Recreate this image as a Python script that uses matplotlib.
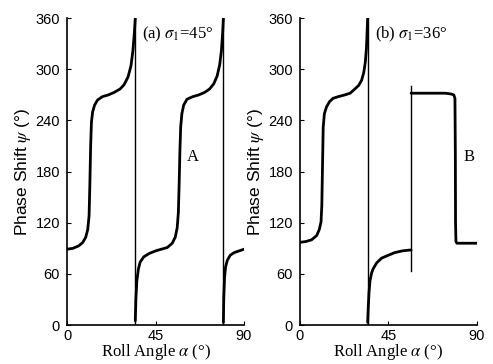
import matplotlib.pyplot as plt

plt.rcParams['mathtext.fontset'] = 'stix'

# panel (a): roll angle (deg) vs phase shift (deg)
a1_alpha = [0, 3, 6, 8, 9.5, 10.5, 11.2, 11.6, 12.0, 12.4, 13.0, 14.0, 15.5, 18, 21, 24, 27, 29, 31, 32.5, 33.5, 34.2, 34.7]
a1_psi = [89, 90, 93, 97, 103, 112, 128, 165, 210, 238, 250, 258, 264, 268, 270, 273, 277, 282, 291, 304, 322, 342, 360]
a2_alpha = [34.7, 35.0, 35.5, 36.3, 37.2, 39, 41.8, 45, 48, 51, 53.5, 55, 56.0, 56.6, 57.0, 57.4, 57.8, 58.4, 59.3, 61, 64, 67, 70, 72.5, 74.6, 76.3, 77.6, 78.5, 79.1, 79.5]
a2_psi = [5, 30, 52, 66, 74, 80, 84, 87, 89, 91, 96, 103, 114, 132, 165, 205, 233, 248, 258, 265, 268, 270, 273, 277, 283, 292, 305, 322, 342, 360]
a3_alpha = [79.5, 79.7, 80.1, 80.6, 81.5, 83, 85, 87.5, 90]
a3_psi = [3, 32, 56, 68, 76, 82, 85, 87, 89]
a_jumps = [34.7, 79.5]

# panel (b)
b1_alpha = [0, 3, 5.9, 8.5, 9.8, 10.7, 11.1, 11.4, 11.8, 12.4, 13.5, 15, 16.8, 19.5, 22.8, 25.5, 27.9, 29.8, 31.3, 32.4, 33.2, 33.8, 34.4]
b1_psi = [97, 98, 100, 105, 112, 121, 140, 180, 232, 248, 256, 262, 266, 268, 270, 272, 277, 281, 287, 296, 308, 325, 360]
b2_alpha = [34.4, 34.7, 35.1, 35.6, 36.4, 37.2, 39, 41.5, 45, 48.2, 52, 55.8, 56.5]
b2_psi = [3, 20, 38, 52, 61, 66, 73, 78.5, 82, 85, 87, 88, 88]
b3_alpha = [56.5, 58, 62, 66, 70, 74, 77, 78.2, 78.8, 79.0, 79.1, 79.3, 79.8, 82, 86, 90]
b3_psi = [272, 272, 272, 272, 272, 272, 271, 270, 266, 200, 120, 98, 96, 96, 96, 96]
b_jumps = [(34.4, 0, 360), (56.5, 64, 281)]

xticks = [0, 45, 90]
yticks = [0, 60, 120, 180, 240, 300, 360]

fig = plt.figure(figsize=(4.93, 3.64), dpi=100)
ax1 = fig.add_axes([0.136, 0.107, 0.359, 0.843])
ax2 = fig.add_axes([0.6085, 0.107, 0.359, 0.843])

for x, y in [(a1_alpha, a1_psi), (a2_alpha, a2_psi), (a3_alpha, a3_psi)]:
    ax1.plot(x, y, color='black', lw=2.0, solid_capstyle='round')
for j in a_jumps:
    ax1.plot([j, j], [0, 360], color='black', lw=1.0)

for x, y in [(b1_alpha, b1_psi), (b2_alpha, b2_psi), (b3_alpha, b3_psi)]:
    ax2.plot(x, y, color='black', lw=2.0, solid_capstyle='round')
for j, lo, hi in b_jumps:
    ax2.plot([j, j], [lo, hi], color='black', lw=1.0)

serif = 'Liberation Serif'
sans = 'Liberation Sans'
for ax, tag, val, lab, lx in [(ax1, '(a)', '45', 'A', 64), (ax2, '(b)', '36', 'B', 86)]:
    ax.set_xlim(0, 90)
    ax.set_ylim(0, 360)
    ax.set_xticks(xticks)
    ax.set_yticks(yticks)
    ax.tick_params(direction='in', length=3, width=0.8, labelsize=10.5, pad=5)
    ax.tick_params(axis='x', pad=3)
    for t in ax.get_xticklabels() + ax.get_yticklabels():
        t.set_family(sans)
    ax.spines['top'].set_visible(False)
    ax.spines['right'].set_visible(False)
    ax.spines['left'].set_linewidth(1.2)
    ax.spines['bottom'].set_linewidth(1.2)
    ax.set_xlabel('Roll Angle $\\alpha$ (°)', family=serif, fontsize=12, labelpad=-1)
    ax.set_ylabel('Phase Shift $\\psi$ (°)', family=sans, fontsize=12.5, labelpad=2)
    ax.text(38, 341, tag + ' $\\sigma_1$=' + val + '°', family=serif, fontsize=12, va='center')
    ax.text(lx, 197, lab, family=serif, fontsize=12, ha='center', va='center')

fig.savefig('out.png', dpi=100)
